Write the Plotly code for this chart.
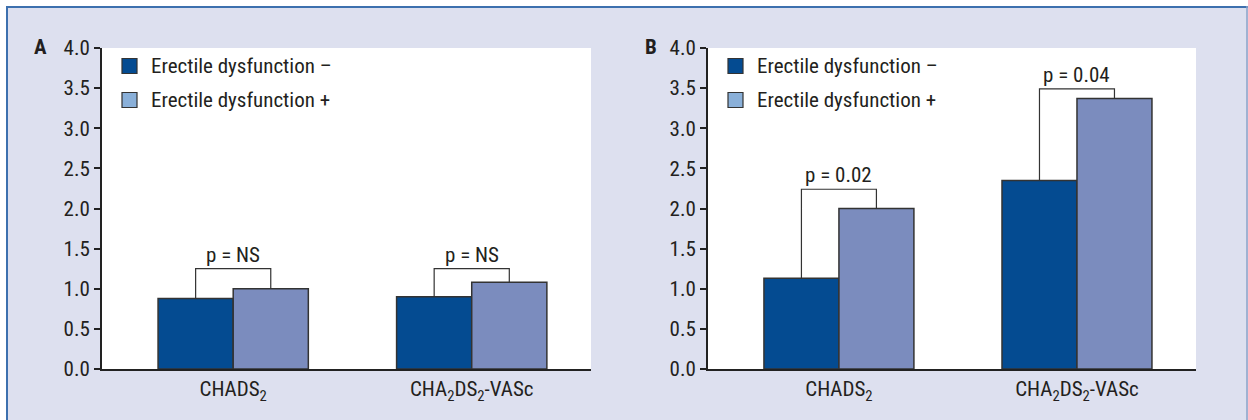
import plotly.graph_objects as go

# Mean risk scores by erectile dysfunction status
categories = ["CHADS<sub>2</sub>", "CHA<sub>2</sub>DS<sub>2</sub>-VASc"]
panel_a_ed_neg = [0.88, 0.90]
panel_a_ed_pos = [1.00, 1.08]
panel_b_ed_neg = [1.13, 2.35]
panel_b_ed_pos = [2.00, 3.37]
panel_a_pvalues = ["p = NS", "p = NS"]
panel_b_pvalues = ["p = 0.02", "p = 0.04"]
panel_a_bracket = [1.25, 1.25]
panel_b_bracket = [2.24, 3.49]
y_ticks = [0.0, 0.5, 1.0, 1.5, 2.0, 2.5, 3.0, 3.5, 4.0]
legend_labels = ["Erectile dysfunction \u2013", "Erectile dysfunction +"]

W, H = 1248, 420
FONT = "Roboto Condensed"
FS = 21
TXT = "#231f20"
DARK = "#044b91"
LIGHT = "#7b8cbe"
LEG_LIGHT = "#8ab0d9"
BG = "#dde0ef"
BORDER = "#3d70ae"

BAR_W = 0.315


def px(x):
    return x / W


def py(y):
    return 1 - y / H


fig = go.Figure()

panels = [
    ("x", "y", panel_a_ed_neg, panel_a_ed_pos, panel_a_pvalues, panel_a_bracket),
    ("x2", "y2", panel_b_ed_neg, panel_b_ed_pos, panel_b_pvalues, panel_b_bracket),
]

xs = list(range(len(categories)))
for xa, ya, neg, pos, pvals, brk in panels:
    fig.add_trace(go.Bar(x=xs, y=neg, xaxis=xa, yaxis=ya, width=BAR_W,
                         offset=-BAR_W, marker=dict(color=DARK, line=dict(color="#333333", width=1.5)),
                         showlegend=False, hoverinfo="skip"))
    fig.add_trace(go.Bar(x=xs, y=pos, xaxis=xa, yaxis=ya, width=BAR_W,
                         offset=0, marker=dict(color=LIGHT, line=dict(color="#333333", width=1.5)),
                         showlegend=False, hoverinfo="skip"))
    for i in xs:
        xl = i - BAR_W / 2
        xr = i + BAR_W / 2
        fig.add_trace(go.Scatter(x=[xl, xl, xr, xr], y=[neg[i], brk[i], brk[i], pos[i]],
                                 xaxis=xa, yaxis=ya, mode="lines",
                                 line=dict(color="#333333", width=1.2),
                                 showlegend=False, hoverinfo="skip"))
        fig.add_annotation(x=i, y=brk[i], xref=xa, yref=ya, text=pvals[i],
                           showarrow=False, yanchor="bottom", yshift=0,
                           font=dict(family=FONT, size=FS, color=TXT))

axis_common = dict(range=[-0.55, 1.5], tickmode="array", tickvals=xs, ticktext=categories,
                   showline=True, linecolor="#222222", linewidth=2, ticks="",
                   showgrid=False, zeroline=False, fixedrange=True, automargin=False,
                   tickfont=dict(family=FONT, size=FS, color=TXT))
yaxis_common = dict(range=[0, 4.0], tickmode="array", tickvals=y_ticks,
                    ticktext=[f"{v:.1f}" for v in y_ticks],
                    showline=True, linecolor="#222222", linewidth=2,
                    ticks="outside", ticklen=6, tickwidth=1.5, tickcolor="#222222",
                    showgrid=False, zeroline=False, fixedrange=True, automargin=False,
                    tickfont=dict(family=FONT, size=FS, color=TXT))

y_dom = [py(369), py(48)]
fig.update_layout(
    width=W, height=H, autosize=False,
    margin=dict(l=0, r=0, t=0, b=0, pad=0, autoexpand=False),
    paper_bgcolor=BG, plot_bgcolor="white",
    barmode="overlay",
    showlegend=False,
    xaxis=dict(domain=[px(102), px(591)], anchor="y", **axis_common),
    yaxis=dict(domain=y_dom, anchor="x", **yaxis_common),
    xaxis2=dict(domain=[px(708), px(1196)], anchor="y2", **axis_common),
    yaxis2=dict(domain=y_dom, anchor="x2", **yaxis_common),
)

# Page frame: white margin strips and blue border lines
shapes = [
    dict(type="rect", xref="paper", yref="paper", x0=0, x1=1, y0=py(6), y1=1,
         fillcolor="white", line=dict(width=0)),
    dict(type="rect", xref="paper", yref="paper", x0=0, x1=px(6), y0=0, y1=1,
         fillcolor="white", line=dict(width=0)),
    dict(type="line", xref="paper", yref="paper", x0=px(6), x1=1, y0=py(7), y1=py(7),
         line=dict(color=BORDER, width=2)),
    dict(type="line", xref="paper", yref="paper", x0=px(7), x1=px(7), y0=0, y1=py(6),
         line=dict(color=BORDER, width=2)),
    dict(type="line", xref="paper", yref="paper", x0=px(1247), x1=px(1247), y0=0, y1=py(6),
         line=dict(color="#8aa3c8", width=1.5)),
]

# Manual legends and panel letters
legend_colors = [DARK, LEG_LIGHT]
for left, letter, letter_x in [(122, "A", 40), (728, "B", 651)]:
    for k, (lab, col) in enumerate(zip(legend_labels, legend_colors)):
        yc = 66 + 34 * k
        shapes.append(dict(type="rect", xref="paper", yref="paper",
                           x0=px(left), x1=px(left + 15), y0=py(yc + 7.5), y1=py(yc - 7.5),
                           fillcolor=col, line=dict(color="#333333", width=1.2)))
        fig.add_annotation(x=px(left + 27), y=py(yc), xref="paper", yref="paper",
                           text=lab, showarrow=False, xanchor="left", yanchor="middle",
                           font=dict(family=FONT, size=FS, color=TXT))
    fig.add_annotation(x=px(letter_x), y=py(47), xref="paper", yref="paper",
                       text=f"<b>{letter}</b>", showarrow=False,
                       xanchor="center", yanchor="middle",
                       font=dict(family=FONT, size=FS, color=TXT))

fig.update_layout(shapes=shapes)

fig.write_html("out.html", config={"displayModeBar": False})
